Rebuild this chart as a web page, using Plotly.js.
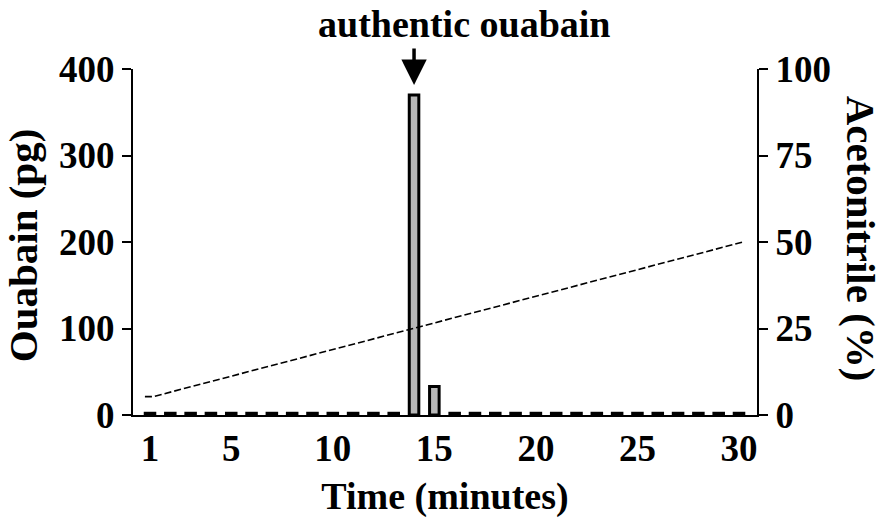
<!DOCTYPE html>
<html>
<head>
<meta charset="utf-8">
<script src="https://cdn.plot.ly/plotly-3.0.1.min.js"></script>
<style>
  html, body { margin: 0; padding: 0; background: #ffffff; }
  #chart { width: 885px; height: 518px; }
</style>
</head>
<body>
<div id="chart"></div>
<script>
// HPLC fractions (minutes) and ouabain immunoreactivity per fraction (pg)
const fractionMinutes = [1, 2, 3, 4, 5, 6, 7, 8, 9, 10, 11, 12, 13, 14, 15,
                         16, 17, 18, 19, 20, 21, 22, 23, 24, 25, 26, 27, 28, 29, 30];
const ouabainPg = [2, 2, 2, 2, 2, 2, 2, 2, 2, 2, 2, 2, 2, 370, 33,
                   2, 2, 2, 2, 2, 2, 2, 2, 2, 2, 2, 2, 2, 2, 2];

// Acetonitrile gradient (%)
const gradientMinutes = [0.75, 1.15, 30.2];
const acetonitrilePct = [5.3, 5.3, 50];

const xTickVals = [1, 5, 10, 15, 20, 25, 30];
const leftTicks = [0, 100, 200, 300, 400];
const rightTicks = [0, 25, 50, 75, 100];

const peakLabel = 'authentic ouabain';
const peakMinute = 14;

const serif = 'Liberation Serif, Times New Roman, serif';
const ink = '#000000';

const peakValue = ouabainPg[fractionMinutes.indexOf(peakMinute)];

const traces = [
  {
    type: 'bar',
    x: fractionMinutes,
    y: ouabainPg,
    width: 0.47,
    marker: { color: '#b8b8b8', line: { color: ink, width: 3 } },
    xaxis: 'x', yaxis: 'y',
    hoverinfo: 'x+y'
  },
  {
    type: 'scatter',
    mode: 'lines',
    x: gradientMinutes,
    y: acetonitrilePct,
    line: { color: ink, width: 1.6, dash: '7px,3px' },
    xaxis: 'x', yaxis: 'y2',
    hoverinfo: 'x+y'
  }
];

const tickFont = { family: serif, size: 37, weight: 700, color: ink };
const titleFont = { family: serif, size: 38, weight: 700, color: ink };
const sideTitleFont = { family: serif, size: 41, weight: 700, color: ink };

const layout = {
  width: 885,
  height: 518,
  margin: { l: 133, r: 128, t: 69, b: 103 },
  paper_bgcolor: '#ffffff',
  plot_bgcolor: '#ffffff',
  showlegend: false,
  font: { family: serif, color: ink, size: 37, weight: 700 },
  xaxis: {
    range: [0.163, 30.886],
    tickvals: xTickVals,
    ticktext: xTickVals.map(String),
    ticks: '',
    showgrid: false,
    zeroline: false,
    showline: true,
    linecolor: ink,
    linewidth: 2,
    tickfont: tickFont,
    title: { text: 'Time (minutes)', font: titleFont, standoff: 14 }
  },
  yaxis: {
    range: [0, 400],
    tickvals: leftTicks,
    ticks: 'outside',
    ticklen: 9,
    tickwidth: 2,
    tickcolor: ink,
    showgrid: false,
    zeroline: false,
    showline: true,
    linecolor: ink,
    linewidth: 2,
    tickfont: tickFont
  },
  yaxis2: {
    overlaying: 'y',
    side: 'right',
    range: [0, 100],
    tickvals: rightTicks,
    ticks: 'outside',
    ticklen: 9,
    tickwidth: 2,
    tickcolor: ink,
    showgrid: false,
    zeroline: false,
    showline: true,
    linecolor: ink,
    linewidth: 2,
    tickfont: tickFont
  },
  annotations: [
    {
      // arrow pointing down at the peak fraction
      x: peakMinute, y: peakValue, xref: 'x', yref: 'y',
      text: '',
      showarrow: true,
      arrowhead: 2,
      arrowsize: 1.45,
      arrowwidth: 3.5,
      arrowcolor: ink,
      ax: 0, ay: -48,
      standoff: 10
    },
    {
      x: 0.53, y: 1.13, xref: 'paper', yref: 'paper',
      xanchor: 'center', yanchor: 'middle',
      text: peakLabel,
      showarrow: false,
      font: { family: serif, size: 38, weight: 700, color: ink }
    },
    {
      // left-hand axis title, reading bottom to top
      x: -0.175, y: 0.49, xref: 'paper', yref: 'paper',
      xanchor: 'center', yanchor: 'middle',
      text: 'Ouabain (pg)',
      textangle: -90,
      showarrow: false,
      borderpad: 0,
      font: sideTitleFont
    },
    {
      // right-hand axis title, reading top to bottom
      x: 1.168, y: 0.51, xref: 'paper', yref: 'paper',
      xanchor: 'center', yanchor: 'middle',
      text: 'Acetonitrile (%)',
      textangle: 90,
      showarrow: false,
      borderpad: 0,
      font: sideTitleFont
    }
  ]
};

Plotly.newPlot('chart', traces, layout, { displayModeBar: false, staticPlot: true });
</script>
</body>
</html>
